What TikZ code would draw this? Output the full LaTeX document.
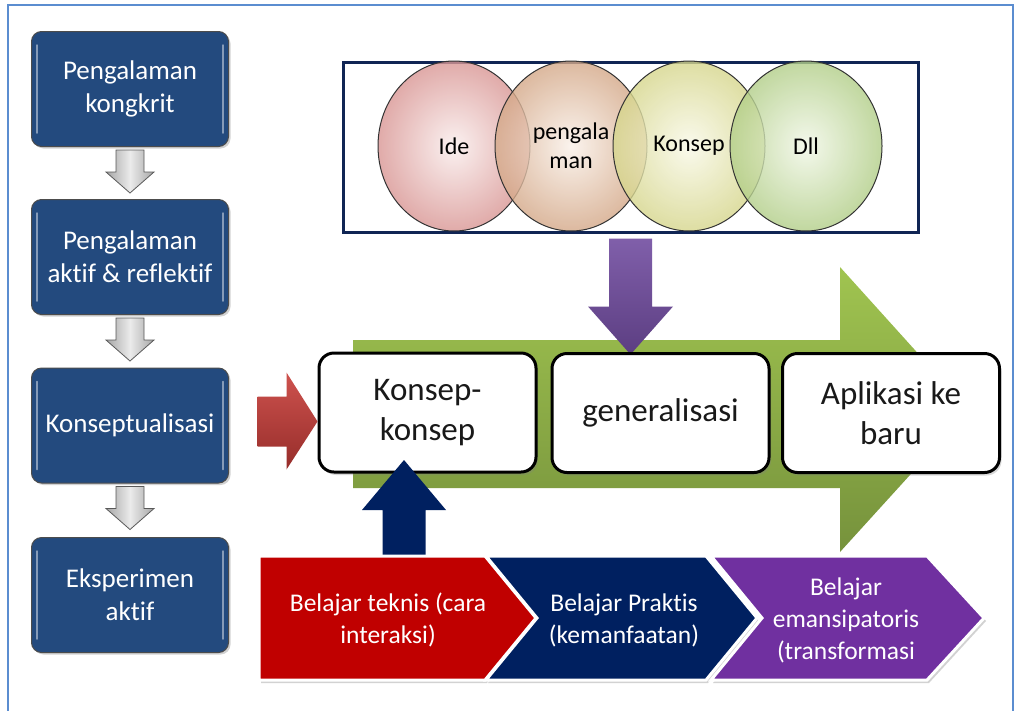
\documentclass[tikz,border=0pt]{standalone}
\usepackage{fontspec}
\setmainfont{Carlito}[Ligatures=NoCommon]
\usetikzlibrary{shapes.geometric,shadows,calc}
\definecolor{leftblue}{RGB}{35,74,126}
\definecolor{framecol}{RGB}{91,141,208}
\definecolor{topnavy}{RGB}{16,37,84}
\definecolor{greenA}{RGB}{160,196,80}
\definecolor{greenB}{RGB}{118,146,60}
\definecolor{redA}{RGB}{206,82,78}
\definecolor{redB}{RGB}{150,45,42}
\definecolor{purA}{RGB}{128,95,170}
\definecolor{purB}{RGB}{92,62,130}
\definecolor{navy}{RGB}{0,32,96}
\definecolor{chevred}{RGB}{192,0,0}
\definecolor{chevnavy}{RGB}{0,32,96}
\definecolor{chevpur}{RGB}{112,48,160}
\definecolor{ceA}{RGB}{217,150,148}\definecolor{ciA}{RGB}{250,238,237}
\definecolor{ceB}{RGB}{212,168,136}\definecolor{ciB}{RGB}{250,241,233}
\definecolor{ceC}{RGB}{214,214,140}\definecolor{ciC}{RGB}{249,249,232}
\definecolor{ceD}{RGB}{178,206,136}\definecolor{ciD}{RGB}{241,247,231}
\tikzset{
  leftbox/.style={draw=black!70, line width=1pt, fill=leftblue, rounded corners=10pt,
    minimum width=197pt, minimum height=115pt, text=white, align=center,
    font=\fontsize{27}{33}\selectfont,
    drop shadow={opacity=0.35, shadow xshift=2pt, shadow yshift=-2pt}},
  hilite/.style={draw=white, opacity=0.45, line width=1.5pt, line cap=round},
  grayarr/.style={draw=black!65, line width=0.8pt, left color=black!35, right color=black!35, middle color=black!8},
  circ/.style={ellipse, draw=black!80, line width=1pt, minimum width=152pt, minimum height=170pt,
    inner sep=0pt, align=center, font=\fontsize{24}{29}\selectfont, fill opacity=0.8, text opacity=1},
  rightbox/.style={draw=black, line width=3pt, fill=white, rounded corners=15pt,
    minimum width=217pt, minimum height=119pt, align=center, text=black!90,
    font=\fontsize{33}{40}\selectfont,
    drop shadow={opacity=0.3, shadow xshift=2pt, shadow yshift=-3pt}},
  chev/.style={draw=white, line width=3pt, line join=miter,
    drop shadow={opacity=0.35, shadow xshift=2pt, shadow yshift=-3pt}},
  chevtext/.style={text=white, align=center, font=\fontsize{25.5}{32}\selectfont},
}
\begin{document}
\begin{tikzpicture}[x=1pt,y=-1pt]
\useasboundingbox (0,0) rectangle (1019,710);
\fill[white] (0,0) rectangle (1019,710);
\draw[framecol, line width=1.6pt] (8,715) -- (8,5) -- (1013,5) -- (1013,715);

% left column
\node[leftbox] (b1) at (130,89) {Pengalaman\\kongkrit};
\node[leftbox] (b2) at (130,257) {Pengalaman\\aktif \& reflektif};
\node[leftbox] (b3) at (130,425.5) {Konseptualisasi};
\node[leftbox] (b4) at (130,595) {Eksperimen\\aktif};
\foreach \b in {b1,b2,b3,b4}{
  \draw[hilite] ([xshift=6pt,yshift=-14pt]\b.north west) -- ([xshift=6pt,yshift=14pt]\b.south west);
  \draw[hilite] ([xshift=-6pt,yshift=-14pt]\b.north east) -- ([xshift=-6pt,yshift=14pt]\b.south east);
}
\foreach \a/\b in {b1/b2,b2/b3,b3/b4}{
  \path[grayarr] ([yshift=-3pt]\a.south) ++(-14,0) -- ++(0,22) -- ++(-10,0) -- ++(24,21)
     -- ++(24,-21) -- ++(-10,0) -- ++(0,-22) -- cycle;
}

% top box with circles
\node[draw=topnavy, line width=3pt, fill=white, minimum width=575pt, minimum height=170pt] (top) at (630.5,147) {};
\node[circ, inner color=ciA, outer color=ceA] (e1) at (454,146) {Ide};
\node[circ, inner color=ciB, outer color=ceB] (e2) at (571,146) {pengala\\man};
\node[circ, inner color=ciC, outer color=ceC] (e3) at (689,146) {Konsep};
\node[circ, inner color=ciD, outer color=ceD] (e4) at (806,146) {Dll};

% green big arrow
\shade[top color=greenA, bottom color=greenB] (353,340) -- (840,340) -- (840,267) -- (969,410)
  -- (840,552) -- (840,488) -- (353,488) -- cycle;

% purple arrow
\path[top color=purA, bottom color=purB] ([yshift=-5pt]top.south) ++(-21.5,0) -- ++(0,68) -- ++(-21,0)
  -- ++(42.5,48) -- ++(42.5,-48) -- ++(-21,0) -- ++(0,-68) -- cycle;

% right boxes
\node[rightbox] (k1) at (427.5,412.5) {Konsep-\\konsep};
\node[rightbox] (k2) at (660.5,413) {generalisasi};
\node[rightbox] (k3) at (891,413) {Aplikasi ke\\baru};

% red arrow into k1
\path[top color=redA, bottom color=redB] ([yshift=-9pt]k1.west) -- ++(-31,-49) -- ++(0,24) -- ++(-29,0)
  -- ++(0,50) -- ++(29,0) -- ++(0,23) -- cycle;

% navy up arrow
\coordinate (navybase) at (404,560);
\fill[navy] (navybase) ++(-21.5,0) -- ++(0,-50) -- ++(-20.5,0) -- ++(42,-50) -- ++(42,50)
  -- ++(-20.5,0) -- ++(0,50) -- cycle;

% chevrons
\path[chev, fill=chevred] (259,556) -- (485,556) -- (536,618) -- (485,680) -- (259,680) -- cycle;
\path[chev, fill=chevnavy] (486,556) -- (706,556) -- (757,618) -- (706,680) -- (486,680) -- (537,618) -- cycle;
\path[chev, fill=chevpur] (711,556) -- (927,556) -- (984,618) -- (927,680) -- (711,680) -- (762,618) -- cycle;
\node[chevtext] (c1) at (388,620) {Belajar teknis (cara\\interaksi)};
\node[chevtext] (c2) at (624,620) {Belajar Praktis\\(kemanfaatan)};
\node[chevtext] (c3) at (846,620) {Belajar\\emansipatoris\\(transformasi};
\end{tikzpicture}
\end{document}
